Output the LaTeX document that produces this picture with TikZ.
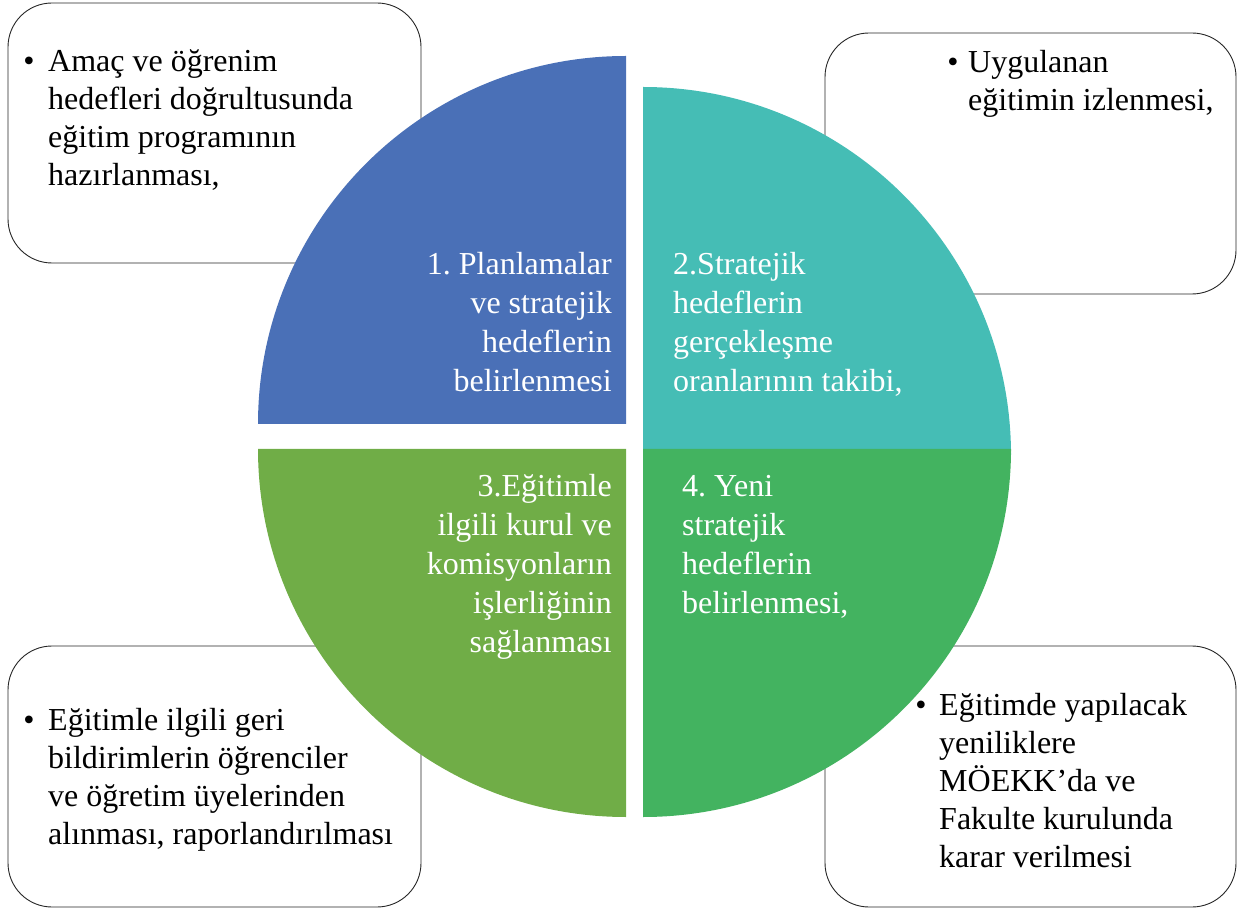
\documentclass[tikz,border=0pt]{standalone}
\usepackage{fontspec}
\setmainfont{Liberation Serif}
\usetikzlibrary{calc}
\usetikzlibrary{positioning}
\tikzset{every node/.style={font=\rmfamily}}
\definecolor{qblue}{HTML}{4A70B7}
\definecolor{qteal}{HTML}{45BDB5}
\definecolor{qgreen}{HTML}{70AD47}
\definecolor{qgreenb}{HTML}{43B360}
\frenchspacing
\newcommand{\solyazi}[1]{\parbox[t]{400pt}{\raggedright #1}}
\newcommand{\sagyazi}[1]{\parbox[t]{300pt}{\raggedleft #1}}

\begin{document}
\begin{tikzpicture}[x=1pt, y=1pt,
    kutu/.style={draw=black!85, line width=0.9pt, rounded corners=44pt, fill=white},
    madde/.style={anchor=base, inner sep=0, font=\fontsize{32}{38}\selectfont},
    yazi/.style={anchor=base west, inner sep=0, font=\fontsize{32}{38}\selectfont},
    dilim/.style={inner sep=0, text=white, font=\fontsize{32}{39}\selectfont}]

\def\R{368pt}

\useasboundingbox (0,0) rectangle (1241,911);

% 四个圆角框
\draw[kutu] (8,648) rectangle (421,908);
\draw[kutu] (825,617) rectangle (1236,878);
\draw[kutu] (8,4) rectangle (421,265);
\draw[kutu] (825,4) rectangle (1236,265);

% 扇形中心
\coordinate (M1) at (626,487);
\coordinate (M2) at (643,456);
\coordinate (M3) at (626,462);
\coordinate (M4) at (643,462);

\fill[qblue] (M1) -- ++(-\R,0pt) arc[start angle=180, end angle=90, radius=\R] -- cycle;
\fill[qteal] (M2) -- ++(\R,0pt) arc[start angle=0, end angle=90, radius=\R] -- cycle;
\fill[qgreen] (M3) -- ++(-\R,0pt) arc[start angle=180, end angle=270, radius=\R] -- cycle;
\fill[qgreenb] (M4) -- ++(\R,0pt) arc[start angle=0, end angle=-90, radius=\R] -- cycle;

% 扇形文字
\node[dilim, anchor=base east] (d1) at (612,636) {\sagyazi{1. Planlamalar\\ ve stratejik\\ hedeflerin\\ belirlenmesi}};
\node[dilim, anchor=base west] (d2) at (673,636) {\solyazi{2.Stratejik\\ hedeflerin\\ gerçekleşme\\ oranlarının takibi,}};
\node[dilim, anchor=base east] (d3) at (612,414) {\sagyazi{3.Eğitimle\\ ilgili kurul ve\\ komisyonların\\ işlerliğinin\\ sağlanması}};
\node[dilim, anchor=base west] (d4) at (682,414) {\solyazi{4. Yeni\\ stratejik\\ hedeflerin\\ belirlenmesi,}};

% 框内文字
\node[madde] (b1) at (29,839) {•};
\node[yazi] (k1) at (48,839) {\solyazi{Amaç ve öğrenim\\ hedefleri doğrultusunda\\ eğitim programının\\ hazırlanması,}};

\node[madde] (b2) at (953,838) {•};
\node[yazi] (k2) at (968,838) {\solyazi{Uygulanan\\ eğitimin izlenmesi,}};

\node[madde] (b3) at (29,181) {•};
\node[yazi] (k3) at (48,181) {\solyazi{Eğitimle ilgili geri\\ bildirimlerin öğrenciler\\ ve öğretim üyelerinden\\ alınması, raporlandırılması}};

\node[madde] (b4) at (921,196) {•};
\node[yazi] (k4) at (939,196) {\solyazi{Eğitimde yapılacak\\ yeniliklere\\ MÖEKK’da ve\\ Fakulte kurulunda\\ karar verilmesi}};

\end{tikzpicture}
\end{document}
